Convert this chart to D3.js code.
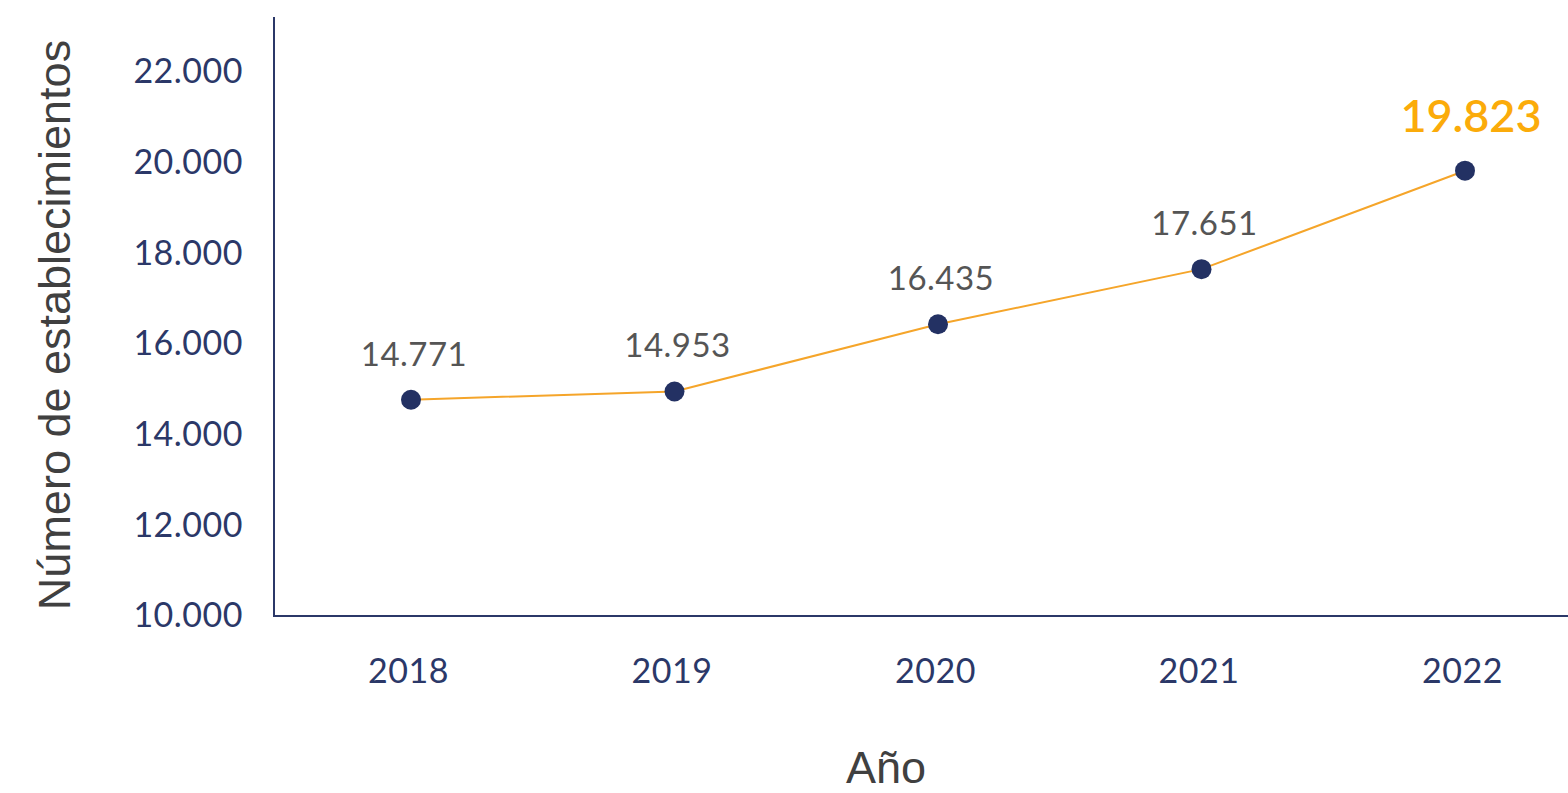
<!DOCTYPE html>
<meta charset="utf-8">
<html>

<head>
  <script src="https://d3js.org/d3.v7.min.js" charset="utf-8"></script>

  <style>
    body {
      margin: 0;
      background-color: white;
    }

    /*Axis text*/
    .y-axis text,
    .x-axis text {
      font-family: 'Lato', sans-serif;
      font-size: 34px;
      letter-spacing: 0.5px;
      fill: #2b3868;
    }

    .frame {
      stroke: #2b3868;
      stroke-width: 2;
    }

    .line {
      fill: none;
      stroke: #f5a52a;
      stroke-width: 2;
    }

    .dot {
      fill: #233163;
    }

    .label {
      font-family: 'Lato', sans-serif;
      font-size: 33px;
      letter-spacing: 0.5px;
      fill: #555555;
      text-anchor: middle;
    }

    .label.last {
      font-size: 45px;
      font-weight: 600;
      letter-spacing: 0px;
      fill: #fbab0a;
    }

    .title {
      font-family: 'Liberation Sans', Arial, sans-serif;
      font-size: 45px;
      fill: #404040;
      text-anchor: middle;
    }
  </style>
</head>

<body>
  <script>
    //Data
    var years = ["2018", "2019", "2020", "2021", "2022"];
    var counts = [14771, 14953, 16435, 17651, 19823];
    var yTicks = [10000, 12000, 14000, 16000, 18000, 20000, 22000];

    var W = 1568, H = 793;

    //Spanish number format: 14.771
    var es = d3.formatLocale({ decimal: ",", thousands: ".", grouping: [3], currency: ["", " €"] });
    var fmt = es.format(",d");

    var svg = d3.select("body")
      .append("svg")
      .attr("width", W)
      .attr("height", H);

    //Scales
    var x = d3.scalePoint()
      .domain(years)
      .range([411, 1465]);

    var y = d3.scaleLinear()
      .domain([10000, 22000])
      .range([616, 72]);

    var axisLeftX = 274, axisTopY = 17;

    //Y axis labels
    var yAxis = svg.append("g")
      .attr("class", "y-axis")
      .attr("transform", `translate(${axisLeftX}, 0)`)
      .call(d3.axisLeft(y)
        .tickValues(yTicks)
        .tickFormat(fmt)
        .tickSize(0)
        .tickPadding(31));
    yAxis.select(".domain").remove();
    yAxis.selectAll("text").attr("dy", "0.32em");

    //X axis labels
    var xAxis = svg.append("g")
      .attr("class", "x-axis")
      .attr("transform", `translate(0, ${y(10000)})`)
      .call(d3.axisBottom(x)
        .tickSize(0)
        .tickPadding(43));
    xAxis.select(".domain").remove();
    xAxis.selectAll("text").attr("dx", "-3");

    //Axis lines
    svg.append("line")
      .attr("class", "frame")
      .attr("x1", axisLeftX).attr("x2", axisLeftX)
      .attr("y1", axisTopY).attr("y2", y(10000));
    svg.append("line")
      .attr("class", "frame")
      .attr("x1", axisLeftX - 1).attr("x2", W)
      .attr("y1", y(10000)).attr("y2", y(10000));

    //Line
    var line = d3.line()
      .x((d, i) => x(years[i]))
      .y(d => y(d));

    svg.append("path")
      .datum(counts)
      .attr("class", "line")
      .attr("d", line);

    //Dots
    svg.selectAll(".dot")
      .data(counts)
      .enter()
      .append("circle")
      .attr("class", "dot")
      .attr("cx", (d, i) => x(years[i]))
      .attr("cy", d => y(d))
      .attr("r", 10);

    //Value labels
    svg.selectAll(".label")
      .data(counts)
      .enter()
      .append("text")
      .attr("class", (d, i) => i == counts.length - 1 ? "label last" : "label")
      .attr("x", (d, i) => x(years[i]) + (i == counts.length - 1 ? 6 : 3))
      .attr("y", (d, i) => y(d) - (i == counts.length - 1 ? 39 : 34))
      .text(fmt);

    //Axis titles
    svg.append("text")
      .attr("class", "title")
      .attr("x", 886)
      .attr("y", 783)
      .text("Año");

    svg.append("text")
      .attr("class", "title")
      .attr("transform", "translate(70, 325) rotate(-90)")
      .text("Número de establecimientos");
  </script>
</body>

</html>
